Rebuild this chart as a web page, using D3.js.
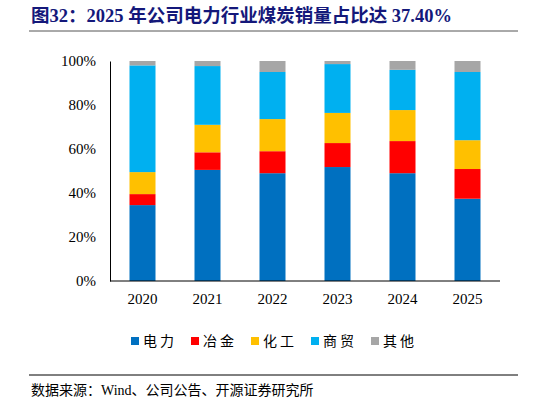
<!DOCTYPE html>
<html><head><meta charset="utf-8">
<script src="https://cdn.jsdelivr.net/npm/d3@7"></script>
<style>body{margin:0;background:#fff;font-family:"Liberation Serif","Noto Sans CJK SC",serif}</style>
</head><body>
<svg id="c" width="546" height="405"></svg>
<script>
var years = ["2020","2021","2022","2023","2024","2025"];
var seriesNames = ["电力","冶金","化工","商贸","其他"];
var power  = [34.5, 50.5, 49.0, 51.8, 49.0, 37.4];
var metal  = [5.0, 8.0, 10.0, 10.9, 14.6, 13.5];
var chem   = [10.0, 12.5, 14.6, 13.7, 14.1, 13.1];
var trade  = [48.5, 26.7, 21.4, 22.2, 18.3, 31.0];
var other  = [2.0, 2.3, 5.0, 1.4, 4.0, 5.0];
var yTicks = [0,20,40,60,80,100];
var colors = ["#0070c0","#ff0000","#ffc000","#00b0f0","#a6a6a6"];

var svg = d3.select("#c");
var cjk = '"Noto Sans CJK SC",sans-serif';
var serifCjk = '"Liberation Serif","Noto Sans CJK SC",serif';

svg.append("text").attr("x",31).attr("y",22).attr("fill","#14187a")
  .attr("font-size",18.5).attr("font-weight","bold").attr("font-family",serifCjk)
  .text("图32：2025 年公司电力行业煤炭销量占比达 37.40%");
svg.append("line").attr("x1",29).attr("x2",518).attr("y1",31).attr("y2",31).attr("stroke","#555").attr("stroke-width",1);

var rows = years.map(function(y,i){ return {year:y, 电力:power[i], 冶金:metal[i], 化工:chem[i], 商贸:trade[i], 其他:other[i]}; });
var stack = d3.stack().keys(seriesNames)(rows);

var x = d3.scaleBand().domain(years).range([110,500]).paddingInner(0.6).paddingOuter(0.3);
var y = d3.scaleLinear().domain([0,100]).range([281,61]);

svg.append("g").selectAll("g").data(stack).join("g")
  .attr("fill",function(d,i){return colors[i];})
  .selectAll("rect").data(function(d){return d;}).join("rect")
  .attr("x",function(d){return x(d.data.year);})
  .attr("width",x.bandwidth())
  .attr("y",function(d){return y(d[1]);})
  .attr("height",function(d){return y(d[0])-y(d[1]);});

var ya = svg.append("g").attr("transform","translate(110,0)")
  .call(d3.axisLeft(y).tickValues(yTicks).tickSize(0).tickPadding(14).tickFormat(function(d){return d+"%";}));
ya.select(".domain").attr("stroke","#000");
ya.selectAll("text").attr("font-size",15).attr("font-family","Liberation Serif").attr("fill","#000");

var xa = svg.append("g").attr("transform","translate(0,281)")
  .call(d3.axisBottom(x).tickSize(0).tickPadding(12));
xa.select(".domain").attr("stroke","#000").attr("d","M110,0H500");
xa.selectAll("text").attr("font-size",15).attr("font-family","Liberation Serif").attr("fill","#000");

var lg = svg.append("g").selectAll("g").data(seriesNames).join("g")
  .attr("transform",function(d,i){return "translate("+(131+i*60)+",343)";});
lg.append("rect").attr("x",0).attr("y",-6).attr("width",8).attr("height",8).attr("fill",function(d,i){return colors[i];});
lg.append("text").attr("x",12).attr("y",3).attr("font-size",14).attr("font-family",cjk).attr("letter-spacing",3).text(function(d){return d;});

svg.append("line").attr("x1",29).attr("x2",518).attr("y1",375).attr("y2",375).attr("stroke","#000").attr("stroke-width",1);
svg.append("text").attr("x",31).attr("y",395).attr("font-size",14).attr("font-family",serifCjk)
  .text("数据来源：Wind、公司公告、开源证券研究所");
</script>
</body></html>
